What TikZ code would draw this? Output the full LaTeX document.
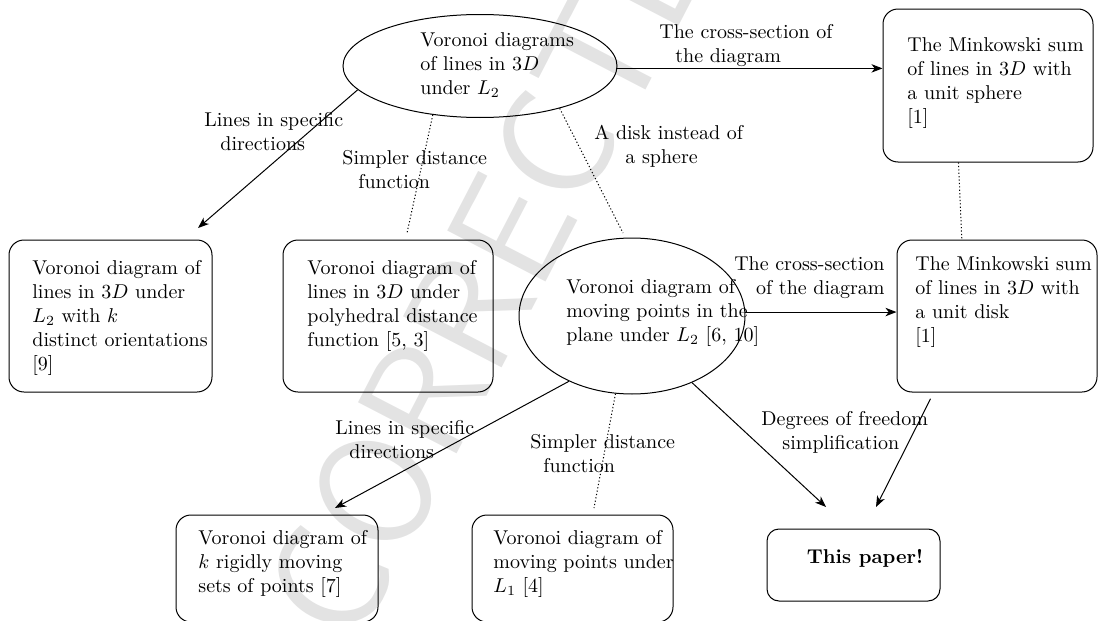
\documentclass[tikz,border=0pt]{standalone}
\usepackage{fontspec}
\usetikzlibrary{arrows.meta,shapes.geometric,calc}
\begin{document}
\begin{tikzpicture}[x=0.5pt,y=-0.5pt,
  every node/.style={inner sep=0pt},
  box/.style={draw,rounded corners=7.5pt,line width=0.5pt},
  oval/.style={draw,ellipse,line width=0.5pt},
  txt/.style={align=left,anchor=north west,font=\fontsize{10}{12}\selectfont},
  lab/.style={align=left,anchor=north west,font=\fontsize{10}{12}\selectfont},
  arr/.style={line width=0.5pt,-{Stealth[length=5.5pt,width=4.2pt,inset=1.6pt]}},
  dot/.style={line width=0.5pt,dash pattern=on 0.6pt off 1.1pt},
  wm/.style={text=black!11,font=\fontsize{80}{80}\selectfont\sffamily,anchor=base west,rotate=62.6}]
\useasboundingbox (0,0) rectangle (1099,621);
% watermark
\node[wm] (wmark) at (355,651) {CORRECTED};
% nodes
\node[oval,minimum width=137pt,minimum height=51.5pt] (te) at (480,66) {};
\node[txt] (tte) at (420,32.4) {Voronoi diagrams\\of lines in $3D$\\under $L_2$};
\node[box,minimum width=105pt,minimum height=76.5pt] (tr) at (988,85.5) {};
\node[txt] (ttr) at (907,37.4) {The Minkowski sum\\of lines in $3D$ with\\a unit sphere\\{[1]}};
\node[box,minimum width=101.5pt,minimum height=76pt] (ba) at (110.5,316) {};
\node[txt] (tba) at (32,260.4) {Voronoi diagram of\\lines in $3D$ under\\$L_2$ with $k$\\distinct orientations\\{[9]}};
\node[box,minimum width=105pt,minimum height=76pt] (bb) at (388,316) {};
\node[txt] (tbb) at (307,260.4) {Voronoi diagram of\\lines in $3D$ under\\polyhedral distance\\function [5, 3]};
\node[oval,minimum width=113pt,minimum height=78pt] (me) at (632,316) {};
\node[txt] (tme) at (566,279.4) {Voronoi diagram of\\moving points in the\\plane under $L_2$ [6, 10]};
\node[box,minimum width=100pt,minimum height=76pt] (rm) at (997,316) {};
\node[txt] (trm) at (915,256.4) {The Minkowski sum\\of lines in $3D$ with\\a unit disk\\{[1]}};
\node[box,minimum width=101pt,minimum height=53.5pt] (bc) at (277,568.5) {};
\node[txt] (tbc) at (198,530.4) {Voronoi diagram of\\$k$ rigidly moving\\sets of points [7]};
\node[box,minimum width=100.5pt,minimum height=53.5pt] (bd) at (572.5,568.5) {};
\node[txt] (tbd) at (493,530.4) {Voronoi diagram of\\moving points under\\$L_1$ [4]};
\node[box,rounded corners=6pt,minimum width=86.5pt,minimum height=36pt] (be) at (853.5,565) {};
\node[anchor=base,font=\fontsize{10}{12}\selectfont\bfseries] (tbe) at (865,563.3) {This paper!};
% free ends
\coordinate (pA) at (198,228);
\coordinate (pB) at (407,233);
\coordinate (pM) at (623,233);
\coordinate (pC) at (335,508);
\coordinate (pD) at (594,508);
\coordinate (pE1) at (826,507);
\coordinate (pE2) at (876,507);
% connectors
\draw[arr] (te.191) -- (pA);
\draw[dot] (te.226) -- (pB);
\draw[dot] (te.332) -- (pM);
\draw[arr] (te.-1) -- (te.-1 -| tr.west);
\draw[dot] ($(tr.south west)!0.36!(tr.south east)$) -- ($(rm.north west)!0.325!(rm.north east)$);
\draw[arr] (me.2) -- (me.2 -| rm.west);
\draw[arr] (me.226) -- (pC);
\draw[dot] (me.258) -- (pD);
\draw[arr] (me.312) -- (pE1);
\draw[arr,shorten <=3.5pt] ($(rm.south west)!0.185!(rm.south east)$) -- (pE2);
% labels
\node[lab] (l1) at (204,112.4) {Lines in specific\\\hspace*{8pt}directions};
\node[lab] (l2) at (342,150.4) {Simpler distance\\\hspace*{8pt}function};
\node[lab] (l3) at (594,124.4) {A disk instead of\\\hspace*{15.5pt}a sphere};
\node[lab] (l4) at (659,24.4) {The cross-section of\\\hspace*{8pt}the diagram};
\node[lab,align=right,anchor=north east] (l5) at (885,256.4) {The cross-section\\of the diagram};
\node[lab] (l6) at (335,420.4) {Lines in specific\\\hspace*{7pt}directions};
\node[lab] (l7) at (530,434.4) {Simpler distance\\\hspace*{6.5pt}function};
\node[lab] (l8) at (761,411.4) {Degrees of freedom\\\hspace*{10.5pt}simplification};
\end{tikzpicture}
\end{document}
